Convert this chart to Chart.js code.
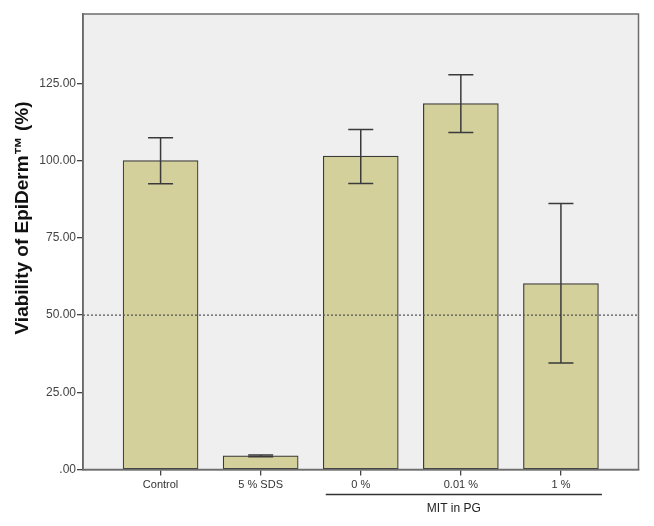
<!DOCTYPE html>
<html>
<head>
<meta charset="utf-8">
<script src="https://cdn.jsdelivr.net/npm/chart.js@4.4.1/dist/chart.umd.min.js"></script>
<style>
html,body{margin:0;padding:0;background:#ffffff;}
#wrap{position:relative;width:654px;height:526px;}
</style>
</head>
<body>
<div id="wrap"><canvas id="c" width="654" height="526"></canvas></div>
<script>
// ---- data ----
const categories = ['Control', '5 % SDS', '0 %', '0.01 %', '1 %'];
const means      = [100.0, 4.4, 101.5, 118.5, 60.2];
const lowerErr   = [92.5, 4.1, 92.6, 109.1, 34.5];
const upperErr   = [107.4, 4.7, 110.1, 127.8, 86.1];
const yTicks     = [0, 25, 50, 75, 100, 125];
const refLine    = 50;
const groupLabel = 'MIT in PG';
const groupMembers = [2, 3, 4];
const yTitle = 'Viability of EpiDerm™ (%)';

const fmt = v => { const s = v.toFixed(2); return s.startsWith('0') ? s.slice(1) : s; };

const bgPlugin = {
  id: 'bg',
  beforeDraw(chart) {
    const {ctx, chartArea: a} = chart;
    ctx.save();
    ctx.fillStyle = '#efefef';
    ctx.fillRect(a.left, a.top, a.right - a.left, a.bottom - a.top);
    ctx.restore();
  },
  afterDatasetsDraw(chart) {
    const {ctx, chartArea: a, scales: {x, y}} = chart;
    ctx.save();
    // reference line
    ctx.strokeStyle = '#555';
    ctx.lineWidth = 1.3;
    ctx.setLineDash([2, 2]);
    const ry = y.getPixelForValue(refLine);
    ctx.beginPath(); ctx.moveTo(a.left, ry); ctx.lineTo(a.right, ry); ctx.stroke();
    ctx.setLineDash([]);
    // error bars
    ctx.strokeStyle = '#3a3a3a';
    ctx.lineWidth = 1.5;
    categories.forEach((c, i) => {
      const px = x.getPixelForValue(i);
      const yl = y.getPixelForValue(lowerErr[i]);
      const yu = y.getPixelForValue(upperErr[i]);
      ctx.beginPath();
      ctx.moveTo(px, yl); ctx.lineTo(px, yu);
      ctx.moveTo(px - 12.5, yl); ctx.lineTo(px + 12.5, yl);
      ctx.moveTo(px - 12.5, yu); ctx.lineTo(px + 12.5, yu);
      ctx.stroke();
    });
    // frame
    ctx.strokeStyle = '#6e6e6e';
    ctx.lineWidth = 1.5;
    ctx.strokeRect(a.left, a.top, a.right - a.left, a.bottom - a.top);
    ctx.restore();
  },
  afterDraw(chart) {
    const {ctx, chartArea: a, scales: {x}} = chart;
    ctx.save();
    // group line + label
    const x0 = x.getPixelForValue(groupMembers[0]) - 35;
    const x1 = x.getPixelForValue(groupMembers[groupMembers.length - 1]) + 41;
    const ly = a.bottom + 25;
    ctx.strokeStyle = '#333';
    ctx.lineWidth = 1.3;
    ctx.beginPath(); ctx.moveTo(x0, ly); ctx.lineTo(x1, ly); ctx.stroke();
    ctx.fillStyle = '#222';
    ctx.font = '12px "Liberation Sans", Arial, sans-serif';
    ctx.textAlign = 'center';
    ctx.textBaseline = 'middle';
    ctx.fillText(groupLabel, (x0 + x1) / 2 - 10, ly + 14);
    // y title
    ctx.translate(23, 218);
    ctx.rotate(-Math.PI / 2);
    ctx.font = 'bold 19px "Liberation Sans", Arial, sans-serif';
    ctx.fillStyle = '#111';
    ctx.fillText(yTitle, 0, 0);
    ctx.restore();
  }
};

new Chart(document.getElementById('c'), {
  type: 'bar',
  data: {
    datasets: [{
      data: means.map((v, i) => ({x: i, y: v})),
      backgroundColor: '#d3d09b',
      borderColor: '#3a3a3a',
      borderWidth: 1.2,
      borderSkipped: false,
      barThickness: 75
    }]
  },
  options: {
    responsive: false,
    animation: false,
    layout: {padding: {top: 14, right: 15.5, left: 0, bottom: 0}},
    plugins: {legend: {display: false}, tooltip: {enabled: false}},
    scales: {
      x: {
        type: 'linear',
        offset: false,
        min: -0.775,
        max: categories.length - 1 + 0.775,
        afterBuildTicks: s => { s.ticks = categories.map((c, i) => ({value: i})); },
        afterFit: s => { s.height = 56.5; },
        ticks: {
          callback: v => categories[v] ?? '',
          color: '#333',
          font: {family: '"Liberation Sans", Arial, sans-serif', size: 11},
          padding: 3,
          maxRotation: 0,
          autoSkip: false
        },
        grid: {offset: false, drawOnChartArea: false, drawTicks: true, tickLength: 6, color: '#444', lineWidth: 1.3},
        border: {display: true, color: '#555', width: 1.5}
      },
      y: {
        min: 0,
        max: 147.5,
        afterBuildTicks: s => { s.ticks = yTicks.map(v => ({value: v})); },
        afterFit: s => { s.width = 83; },
        ticks: {
          callback: v => fmt(v),
          color: '#444',
          font: {family: '"Liberation Sans", Arial, sans-serif', size: 12},
          padding: 1
        },
        grid: {drawOnChartArea: false, drawTicks: true, tickLength: 6, color: '#444', lineWidth: 1.3},
        border: {display: true, color: '#555', width: 1.5}
      }
    }
  },
  plugins: [bgPlugin]
});
</script>
</body>
</html>
